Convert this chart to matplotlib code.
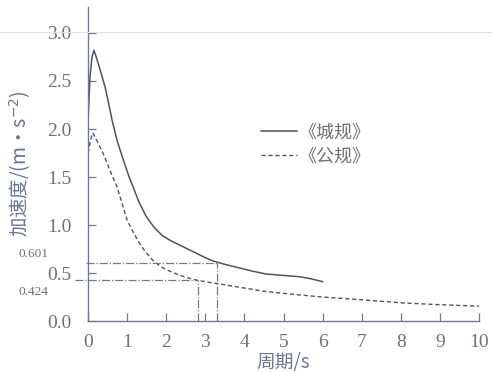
import matplotlib
matplotlib.use('Agg')
import matplotlib.pyplot as plt
from matplotlib.lines import Line2D

# 《城规》 反应谱 (周期 s, 加速度 m/s^2)
city_t = [0.0, 0.05, 0.10, 0.15, 0.20, 0.30, 0.44, 0.55, 0.62, 0.75, 0.90, 1.05,
          1.15, 1.30, 1.50, 1.70, 1.90, 2.10, 2.40, 2.70, 3.00, 3.20, 3.50, 3.80,
          4.20, 4.55, 5.00, 5.44, 5.70, 6.00]
city_a = [2.10, 2.55, 2.75, 2.82, 2.76, 2.63, 2.43, 2.22, 2.08, 1.87, 1.68, 1.50,
          1.40, 1.24, 1.08, 0.97, 0.89, 0.84, 0.78, 0.72, 0.66, 0.625, 0.59, 0.56,
          0.52, 0.49, 0.475, 0.46, 0.44, 0.41]

# 《公规》
road_t = [0.0, 0.06, 0.12, 0.25, 0.38, 0.50, 0.60, 0.74, 0.85, 1.00, 1.15, 1.30,
          1.45, 1.65, 1.85, 2.00, 2.20, 2.40, 2.60, 2.80, 3.00, 3.30, 3.60, 3.90,
          4.50, 5.20, 6.00, 7.05, 8.00, 9.00, 10.0]
road_a = [1.75, 1.88, 1.96, 1.86, 1.75, 1.63, 1.53, 1.40, 1.25, 1.05, 0.93, 0.82,
          0.73, 0.635, 0.57, 0.535, 0.50, 0.47, 0.445, 0.424, 0.41, 0.39, 0.37, 0.35,
          0.31, 0.28, 0.25, 0.22, 0.19, 0.17, 0.155]

ref_a = [0.601, 0.424]
ref_t = [3.3, 2.8]
ref_lbl = ['0.601', '0.424']

xticks = list(range(0, 11))
yticks = [0.0, 0.5, 1.0, 1.5, 2.0, 2.5, 3.0]

axis_col = '#6e7b8f'
line_col = '#4f5460'
txt_col = '#707076'
serif = ['Liberation Serif', 'DejaVu Serif']
cjk = ['Noto Sans CJK SC', 'DejaVu Sans']

fig = plt.figure(figsize=(4.92, 3.72), dpi=100)
ax = fig.add_axes([0.179, 0.137, 0.7946, 0.844])

# faint scan line at the top
fig.add_artist(Line2D([0.0, 1.0], [0.914, 0.914], color='#e2e2e2', lw=0.8))

ax.plot(city_t, city_a, color=line_col, lw=1.1, label='《城规》')
ax.plot(road_t, road_a, color=line_col, lw=1.0, ls=(0, (3, 2)), label='《公规》')

# reference lines
ax.plot([-0.05, ref_t[0]], [ref_a[0], ref_a[0]], color=axis_col, lw=0.9, ls='-.', clip_on=False)
ax.plot([ref_t[0], ref_t[0]], [0, ref_a[0]], color=axis_col, lw=0.9, ls='-.')
ax.plot([-0.33, ref_t[1]], [ref_a[1], ref_a[1]], color=axis_col, lw=0.9, ls='-.', clip_on=False)
ax.plot([ref_t[1], ref_t[1]], [0, ref_a[1]], color=axis_col, lw=0.9, ls='-.')

ax.annotate(ref_lbl[0], xy=(0, ref_a[0]), xytext=(-40, 9), textcoords='offset pixels',
            ha='right', va='center', fontsize=9.5, color=txt_col, family=serif,
            annotation_clip=False)
ax.annotate(ref_lbl[1], xy=(0, ref_a[1]), xytext=(-40, -12), textcoords='offset pixels',
            ha='right', va='center', fontsize=9.5, color=txt_col, family=serif,
            annotation_clip=False)

ax.set_xlim(0, 10)
ax.set_ylim(0, 3.27)
ax.set_xticks(xticks)
ax.set_yticks(yticks)
ax.set_xticklabels([str(t) for t in xticks], family=serif, fontsize=14, color=txt_col)
ax.set_yticklabels(['%.1f' % v for v in yticks], family=serif, fontsize=14, color=txt_col)
ax.tick_params(direction='in', length=6, width=0.9, color=axis_col, pad=9)
ax.tick_params(axis='y', pad=12)

for s in ['top', 'right']:
    ax.spines[s].set_visible(False)
for s in ['left', 'bottom']:
    ax.spines[s].set_color(axis_col)
    ax.spines[s].set_linewidth(1.0)

ax.set_ylabel('加速度/(m·s$^{-2}$)', family=cjk, fontsize=14, color='#6a7590', labelpad=10)
ax.set_xlabel('周期/s', family=cjk, fontsize=13.5, color='#6a7590', labelpad=1)

leg = ax.legend(loc='upper left', bbox_to_anchor=(0.40, 0.68), frameon=False,
                prop={'family': cjk, 'size': 13}, handlelength=2.0, handletextpad=0.1,
                labelspacing=0.3)
for t in leg.get_texts():
    t.set_color(txt_col)

fig.savefig('out.png', dpi=100)
